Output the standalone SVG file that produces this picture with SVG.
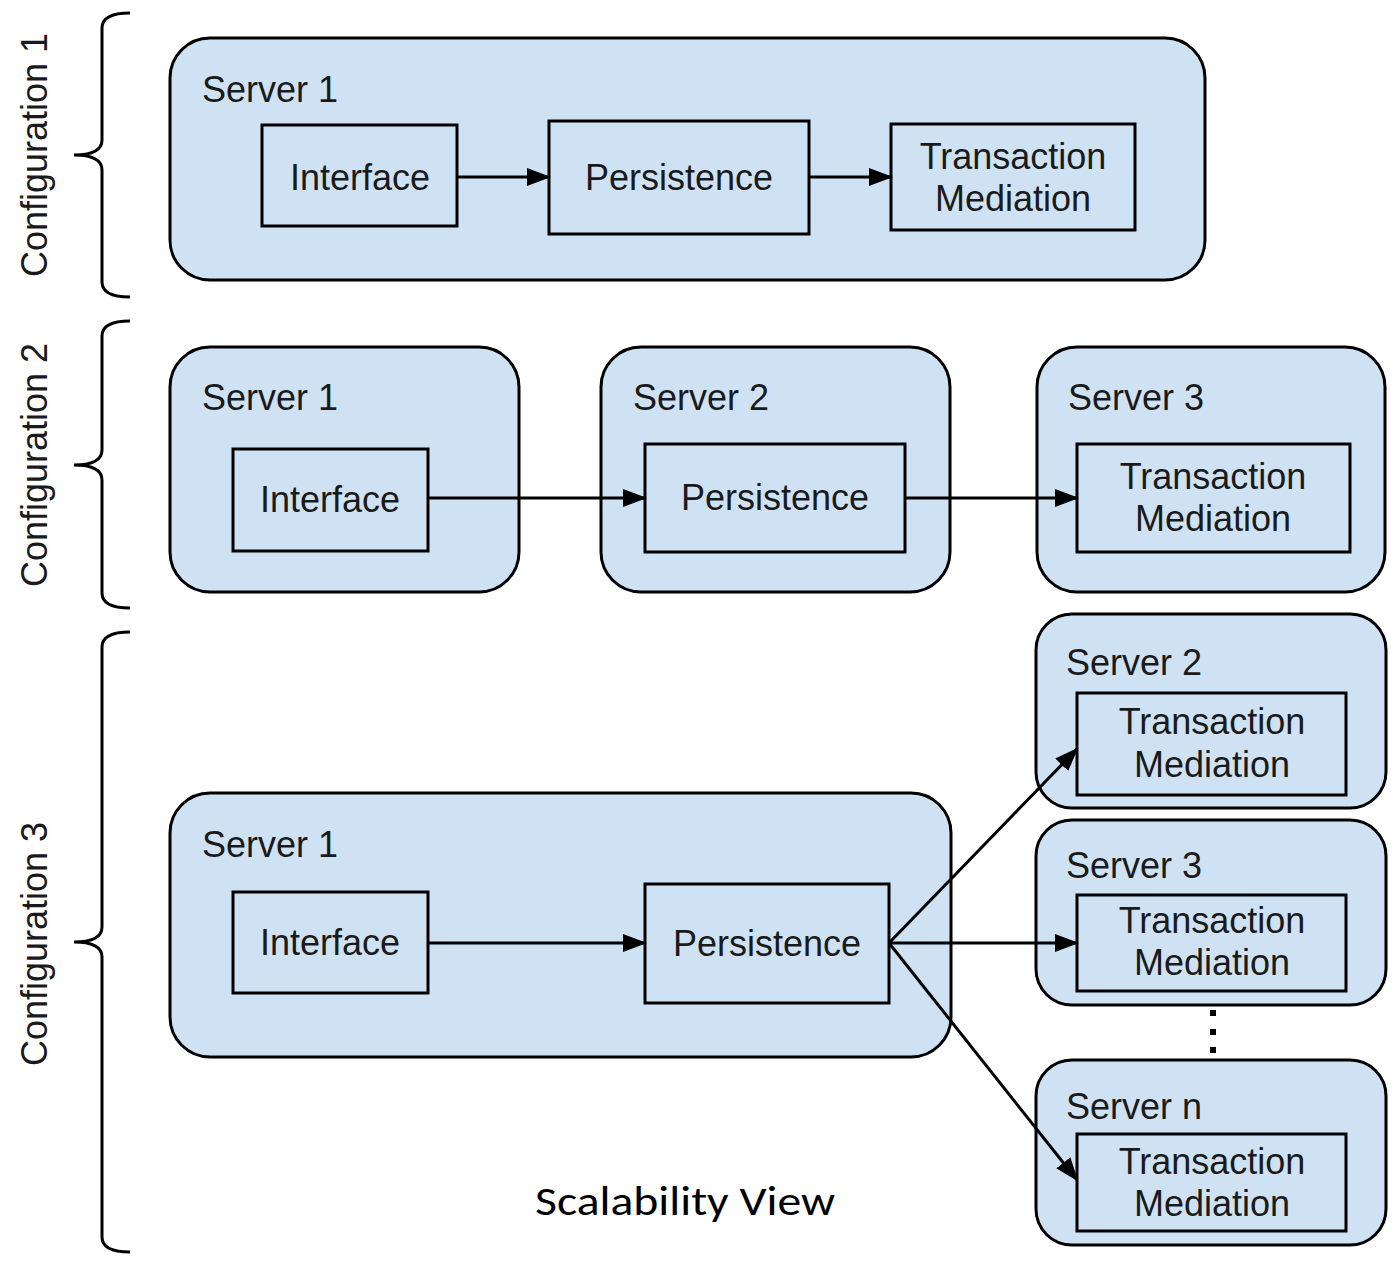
<svg xmlns="http://www.w3.org/2000/svg" width="1393" height="1262" viewBox="0 0 1393 1262">
<style>
.srv{fill:#cfe2f3;stroke:#000;stroke-width:3}
.box{fill:#cfe2f3;stroke:#000;stroke-width:3}
.t{font-family:"Liberation Sans",Arial,sans-serif;font-size:36px;fill:#1a1a1a}
.c{text-anchor:middle}
.br{fill:none;stroke:#000;stroke-width:3}
.ln{stroke:#000;stroke-width:3;fill:none;marker-end:url(#ah)}
</style>
<defs>
<marker id="ah" markerWidth="26" markerHeight="20" refX="22" refY="9" orient="auto" markerUnits="userSpaceOnUse"><path d="M0,0 L24,9 L0,18 Z" fill="#000"/></marker>
</defs>
<rect width="1393" height="1262" fill="#fff"/>

<g id="braces">
<path class="br" d="M130,13 Q102,13 102,28 L102,140 Q102,155 74,155 Q102,155 102,170 L102,282 Q102,297 130,297"/>
<path class="br" d="M130,321 Q102,321 102,336 L102,450 Q102,465 74,465 Q102,465 102,480 L102,593 Q102,608 130,608"/>
<path class="br" d="M130,632 Q102,632 102,647 L102,927 Q102,942 74,942 Q102,942 102,957 L102,1237 Q102,1252 130,1252"/>
<text class="t c" transform="translate(47,155) rotate(-90)">Configuration 1</text>
<text class="t c" transform="translate(47,465) rotate(-90)">Configuration 2</text>
<text class="t c" transform="translate(47,944) rotate(-90)">Configuration 3</text>
</g>

<g id="c1-server1">
<rect class="srv" x="170" y="38" width="1035" height="242" rx="40"/>
<text class="t" x="202" y="102">Server 1</text>
</g>
<g id="c1-interface"><rect class="box" x="262" y="125" width="195" height="101"/><text class="t c" x="360" y="190">Interface</text></g>
<g id="c1-persistence"><rect class="box" x="549" y="121" width="260" height="113"/><text class="t c" x="679" y="190">Persistence</text></g>
<g id="c1-tm"><rect class="box" x="891" y="124" width="244" height="106"/><text class="t c" x="1013" y="169">Transaction</text><text class="t c" x="1013" y="211">Mediation</text></g>

<g id="c2-server1"><rect class="srv" x="170" y="347" width="349" height="245" rx="40"/><text class="t" x="202" y="410">Server 1</text></g>
<g id="c2-server2"><rect class="srv" x="601" y="347" width="349" height="245" rx="40"/><text class="t" x="633" y="410">Server 2</text></g>
<g id="c2-server3"><rect class="srv" x="1037" y="347" width="348" height="245" rx="40"/><text class="t" x="1068" y="410">Server 3</text></g>
<g id="c2-interface"><rect class="box" x="233" y="449" width="195" height="102"/><text class="t c" x="330" y="512">Interface</text></g>
<g id="c2-persistence"><rect class="box" x="645" y="444" width="260" height="108"/><text class="t c" x="775" y="510">Persistence</text></g>
<g id="c2-tm"><rect class="box" x="1077" y="444" width="273" height="108"/><text class="t c" x="1213" y="489">Transaction</text><text class="t c" x="1213" y="531">Mediation</text></g>

<g id="c3-server1"><rect class="srv" x="170" y="793" width="781" height="264" rx="40"/><text class="t" x="202" y="857">Server 1</text></g>
<g id="c3-interface"><rect class="box" x="233" y="892" width="195" height="101"/><text class="t c" x="330" y="955">Interface</text></g>
<g id="c3-persistence"><rect class="box" x="645" y="884" width="244" height="119"/><text class="t c" x="767" y="956">Persistence</text></g>

<g id="c3-server2"><rect class="srv" x="1036" y="614" width="350" height="194" rx="36"/><text class="t" x="1066" y="675">Server 2</text>
<rect class="box" x="1077" y="693" width="269" height="102"/><text class="t c" x="1212" y="734">Transaction</text><text class="t c" x="1212" y="777">Mediation</text></g>
<g id="c3-server3"><rect class="srv" x="1036" y="820" width="350" height="185" rx="36"/><text class="t" x="1066" y="878">Server 3</text>
<rect class="box" x="1077" y="895" width="269" height="96"/><text class="t c" x="1212" y="933">Transaction</text><text class="t c" x="1212" y="975">Mediation</text></g>
<g id="dots" fill="#000"><rect x="1210" y="1010" width="6" height="6"/><rect x="1210" y="1029" width="6" height="6"/><rect x="1210" y="1047" width="6" height="6"/></g>
<g id="c3-servern"><rect class="srv" x="1036" y="1060" width="350" height="185" rx="36"/><text class="t" x="1066" y="1119">Server n</text>
<rect class="box" x="1077" y="1134" width="269" height="97"/><text class="t c" x="1212" y="1174">Transaction</text><text class="t c" x="1212" y="1216">Mediation</text></g>

<g id="connectors">
<line class="ln" x1="457" y1="177" x2="549" y2="177"/>
<line class="ln" x1="809" y1="177" x2="891" y2="177"/>
<line class="ln" x1="428" y1="498" x2="645" y2="498"/>
<line class="ln" x1="905" y1="498" x2="1077" y2="498"/>
<line class="ln" x1="428" y1="943" x2="645" y2="943"/>
<line class="ln" x1="889" y1="943" x2="1077" y2="749"/>
<line class="ln" x1="889" y1="943" x2="1077" y2="943"/>
<line class="ln" x1="889" y1="943" x2="1077" y2="1180"/>
</g>

<text id="caption" x="685" y="1215" text-anchor="middle" font-family="Carlito,'Open Sans','Noto Sans',sans-serif" font-size="40" textLength="300" lengthAdjust="spacingAndGlyphs" fill="#000">Scalability View</text>
</svg>
